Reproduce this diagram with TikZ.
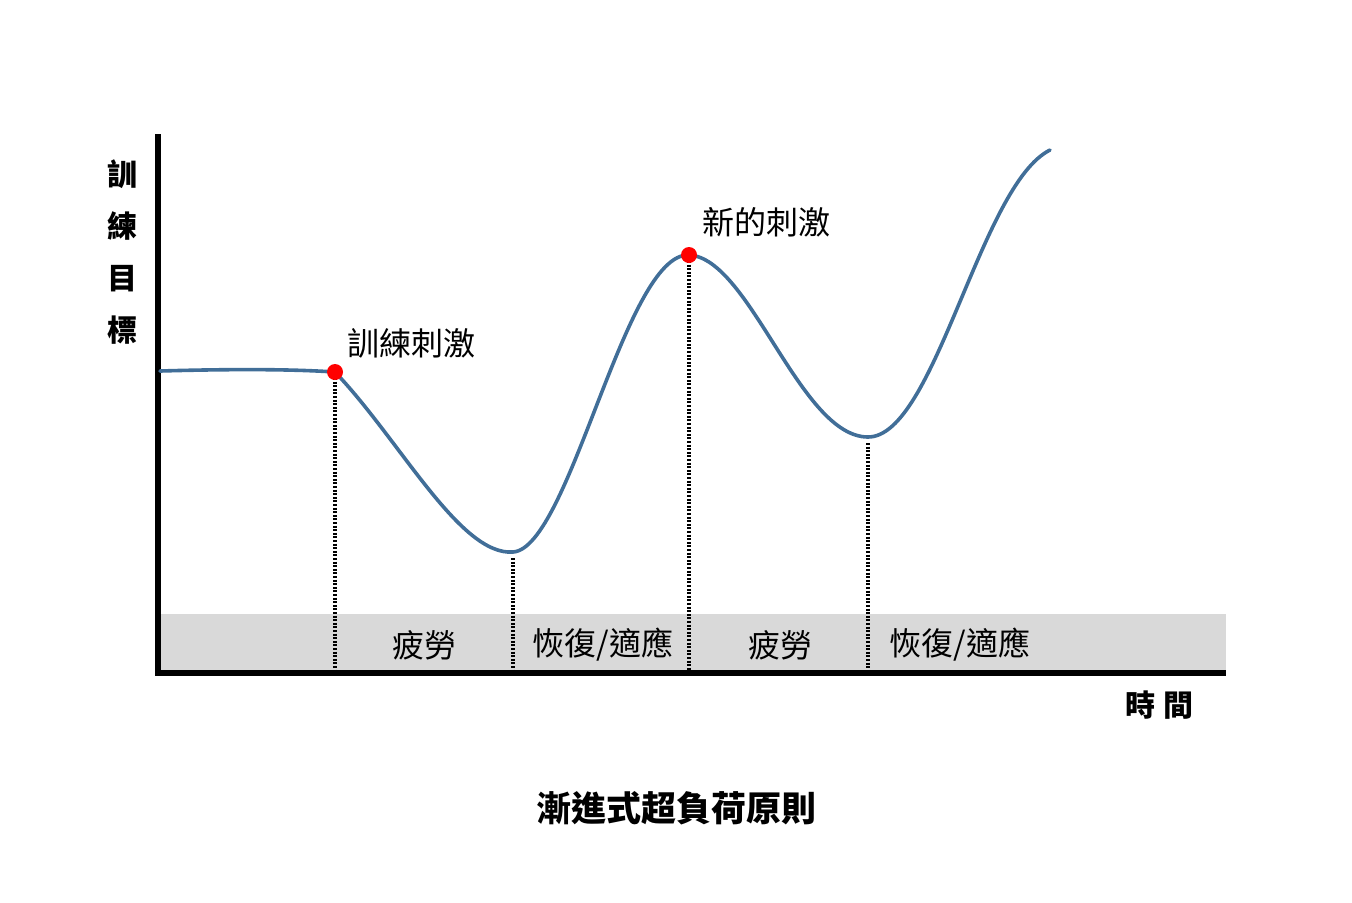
\documentclass[tikz,border=0pt]{standalone}
\usepackage{fontspec}
\setmainfont{Noto Sans CJK TC}
\definecolor{curveblue}{RGB}{65,110,152}
\definecolor{bandgray}{RGB}{217,217,217}
\tikzset{
    phase/.style={line width=2pt, dash pattern=on 1pt off 0.8pt},
    stimdot/.style={circle, fill=red, inner sep=0pt, minimum size=8pt},
    lbl/.style={font=\fontsize{16}{16}\selectfont, inner sep=0pt},
    axislbl/.style={font=\fontsize{15}{26}\selectfont\bfseries, inner sep=0pt, align=center},
}

\begin{document}
\begin{tikzpicture}[x=0.5pt, y=-0.5pt]
    \useasboundingbox (0,0) rectangle (1352,902);

    \begin{scope} % Draw band and axes
        \fill[bandgray] (160,614) rectangle (1226,670);
        \coordinate (o) at (158,673);
        \coordinate (ytop) at (158,134);
        \coordinate (xend) at (1226,673);
        \draw[line width=3pt] (ytop) -- (158,676);
        \draw[line width=3pt] (155,673) -- (xend);
    \end{scope}

    % points on the curve
    \coordinate (p0) at (160,371);
    \coordinate (p1) at (335,372);
    \coordinate (p2) at (513,552);
    \coordinate (p3) at (689,255);
    \coordinate (p4) at (868,437);
    \coordinate (p5) at (1050,150);

    \foreach \p in {p1,p2,p3,p4}
        \draw[phase] ([yshift=-3pt]\p) -- (\p |- 0,670);

    \draw[curveblue, line width=1.8pt, line cap=round]
        (p0) .. controls (230,369) and (290,369) .. (p1)
             .. controls (400,440) and (460,556) .. (p2)
             .. controls (570,548) and (625,252) .. (p3)
             .. controls (750,258) and (800,437) .. (p4)
             .. controls (935,437) and (980,185) .. (p5);

    \node[stimdot] (dot1) at (p1) {};
    \node[stimdot] (dot2) at (p3) {};

    \node[lbl] (stim1) at (411,343) {訓練刺激};
    \node[lbl] (stim2) at (766,222) {新的刺激};

    \node[lbl] (fat1) at (424,645) {疲勞};
    \node[lbl] (rec1) at (603,645) {恢復/適應};
    \node[lbl] (fat2) at (780,645) {疲勞};
    \node[lbl] (rec2) at (960,645) {恢復/適應};

    \node[axislbl] (ylbl) at (122,252) {訓\\練\\目\\標};
    \node[axislbl] (xlbl) at (1159,705) {時\hspace{4pt}間};

    \node[font=\fontsize{17.5}{17.5}\selectfont\bfseries, inner sep=0pt] (title) at (676,808) {漸進式超負荷原則};
\end{tikzpicture}
\end{document}
